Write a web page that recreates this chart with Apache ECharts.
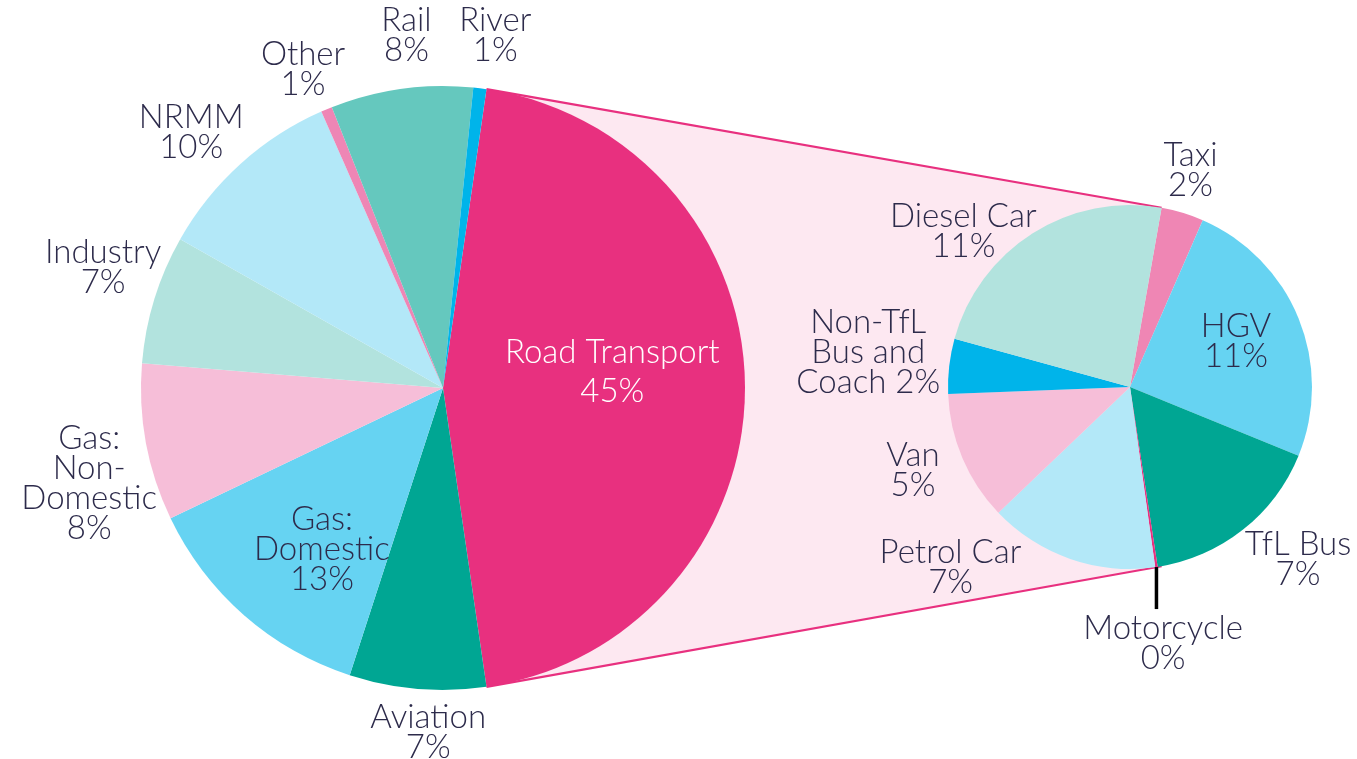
<!DOCTYPE html>
<html><head><meta charset="utf-8">
<script src="https://cdn.jsdelivr.net/npm/echarts@6/dist/echarts.min.js"></script>
<style>html,body{margin:0;padding:0;background:#fff}#c{width:1357px;height:759px}</style>
</head><body><div id="c"></div>
<script>
// ---- data ----
const mainCategories = ['Road Transport', 'Aviation', 'Gas:\nDomestic', 'Gas:\nNon-\nDomestic', 'Industry', 'NRMM', 'Other', 'Rail', 'River'];
const mainValues = [45.4, 7.3, 12.9, 8.4, 6.9, 10.2, 0.6, 7.6, 0.7];
const roadCategories = ['Taxi', 'HGV', 'TfL Bus', 'Motorcycle', 'Petrol Car', 'Van', 'Non-TfL\nBus and\nCoach', 'Diesel Car'];
const roadValues = [1.7, 11.1, 7.4, 0.1, 6.8, 5.2, 2.2, 10.6];

// ---- style ----
const mainColors = ['#E8307F', '#00A693', '#66D3F2', '#F6BED8', '#B2E3DE', '#B3E8F8', '#EE86B5', '#65C8BE', '#00B4EA'];
const roadColors = ['#EF86B4', '#66D3F2', '#00A693', '#E8307F', '#B3E8F8', '#F6BED8', '#00B4EA', '#B2E3DE'];
const TEXT = '#2d2b4b';
const FONT = 'Lato';
const PAD = 12;

const mainGeom = { cx: 443, cy: 388, r: 302 };
const roadGeom = { cx: 1130, cy: 387, r: 182 };

// label nudges (degrees clockwise, extra radial px, inside fraction)
const mainTweak = {
  da: [-5.4, -2.4, -4.4, -4.7, 2.5, -2.4, -1, 2, 1.4],
  dr: [0, -1, 0, -15, -9, 2, 1, 9, 11],
  inside: [0.563, 0, 0.669, 0, 0, 0, 0, 0, 0]
};
const roadTweak = {
  da: [-1.2, -1.4, -6, 1, 25.6, 2, 1, -14.7],
  dr: [0, 0, 3, 32, 6, 11, -1.5, -24],
  inside: [0, 0.635, 0, 0, 0, 0, 0, 0]
};

function sum(a) { return a.reduce((s, v) => s + v, 0); }
// start angle (deg clockwise from 12 o'clock) of first slice
const mainStartCW = 90 - (mainValues[0] / sum(mainValues)) * 180;
const roadStartCW = 10;

function midAngles(values, startCW) {
  const tot = sum(values);
  let a = startCW;
  return values.map(v => { const d = v / tot * 360; const m = a + d / 2; a += d; return m; });
}
const mainMid = midAngles(mainValues, mainStartCW);
const roadMid = midAngles(roadValues, roadStartCW);

function pt(g, cwDeg, d) {
  const t = (cwDeg - 90) * Math.PI / 180;
  return [g.cx + Math.cos(t) * d, g.cy + Math.sin(t) * d];
}

function makeLabelLayout(g, mids, tw) {
  return function (p) {
    const i = p.dataIndex;
    const ang = mids[i] + tw.da[i];
    const t = (ang - 90) * Math.PI / 180;
    const ux = Math.cos(t), uy = Math.sin(t);
    let d;
    if (tw.inside[i]) d = g.r * tw.inside[i];
    else {
      const w = p.labelRect.width / 2, h = p.labelRect.height / 2;
      d = g.r + PAD + Math.hypot(ux * w, uy * h) + tw.dr[i];
    }
    return { x: g.cx + ux * d, y: g.cy + uy * d, align: 'center', verticalAlign: 'middle' };
  };
}

const sameLine = { 'Non-TfL\nBus and\nCoach': true };
function fmt(p) {
  return p.name + (sameLine[p.name] ? ' ' : '\n') + Math.round(p.value) + '%';
}

// connector geometry derived from pie layout
const A = pt(mainGeom, mainStartCW, mainGeom.r);
const D = pt(mainGeom, 180 - mainStartCW, mainGeom.r);
const B = pt(roadGeom, roadStartCW, roadGeom.r);
const C = pt(roadGeom, 180 - roadStartCW, roadGeom.r);
const motoEdge = pt(roadGeom, roadMid[3], roadGeom.r);

const chart = echarts.init(document.getElementById('c'), null, { renderer: 'canvas' });
chart.setOption({
  animation: false,
  backgroundColor: '#ffffff',
  graphic: [
    { type: 'polygon', z: 0, shape: { points: [A, B, C, D] }, style: { fill: '#FDE8F1' }, silent: true },
    { type: 'line', z: 1, shape: { x1: A[0], y1: A[1], x2: B[0], y2: B[1] }, style: { stroke: '#E8307F', lineWidth: 2.2 }, silent: true },
    { type: 'line', z: 1, shape: { x1: D[0], y1: D[1], x2: C[0], y2: C[1] }, style: { stroke: '#E8307F', lineWidth: 2.2 }, silent: true },
    { type: 'line', z: 10, shape: { x1: motoEdge[0], y1: motoEdge[1], x2: motoEdge[0], y2: motoEdge[1] + 42 }, style: { stroke: '#000', lineWidth: 3.5 }, silent: true }
  ],
  series: [
    {
      type: 'pie', z: 2,
      center: [mainGeom.cx, mainGeom.cy], radius: mainGeom.r,
      startAngle: 90 - mainStartCW, clockwise: true,
      avoidLabelOverlap: false, silent: true,
      itemStyle: { borderWidth: 0 },
      label: { show: true, position: 'inside', formatter: fmt, color: TEXT, fontFamily: FONT, fontWeight: 300, fontSize: 33, lineHeight: 30 },
      labelLine: { show: false },
      labelLayout: makeLabelLayout(mainGeom, mainMid, mainTweak),
      data: mainCategories.map((n, i) => ({
        name: n, value: mainValues[i], itemStyle: { color: mainColors[i] },
        label: i === 0 ? { color: '#ffffff', lineHeight: 39 } : undefined
      }))
    },
    {
      type: 'pie', z: 2,
      center: [roadGeom.cx, roadGeom.cy], radius: roadGeom.r,
      startAngle: 90 - roadStartCW, clockwise: true,
      avoidLabelOverlap: false, silent: true,
      itemStyle: { borderWidth: 0 },
      label: { show: true, position: 'inside', formatter: fmt, color: TEXT, fontFamily: FONT, fontWeight: 300, fontSize: 33, lineHeight: 30 },
      labelLine: { show: false },
      labelLayout: makeLabelLayout(roadGeom, roadMid, roadTweak),
      data: roadCategories.map((n, i) => ({ name: n, value: roadValues[i], itemStyle: { color: roadColors[i] } }))
    }
  ]
});
</script></body></html>
